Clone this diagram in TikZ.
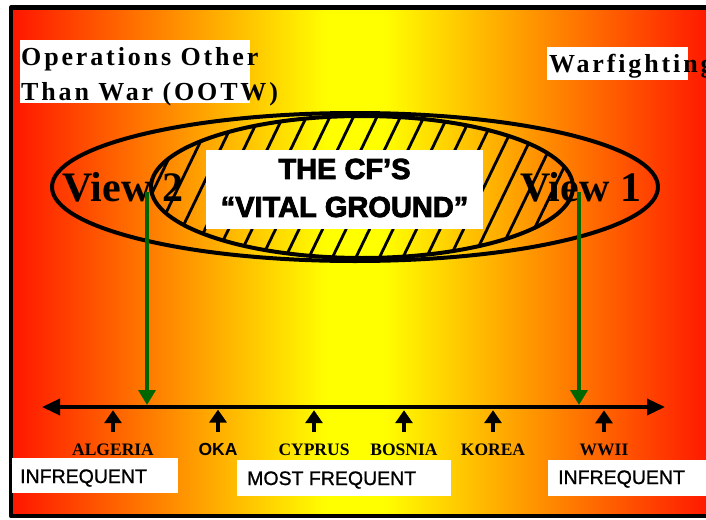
\documentclass[tikz,border=0pt]{standalone}
\usepackage{fontspec}
\setmainfont{Liberation Serif}
\newfontfamily\arialfont{Liberation Sans}
\newfontfamily\heavyarial[FakeBold=1]{Liberation Sans}
\newfontfamily\spacedfont[LetterSpace=11]{Liberation Serif}
\newfontfamily\blackfont[BoldFeatures={FakeBold=3}]{Liberation Sans}
\usetikzlibrary{arrows.meta,positioning,calc,shapes.geometric}
\definecolor{bgred}{RGB}{255,22,0}
\definecolor{bgyellow}{RGB}{255,255,0}
\definecolor{viewgreen}{RGB}{0,102,0}
\pgfdeclarehorizontalshading{warshade}{100bp}{color(0bp)=(bgred); color(25bp)=(bgred);
  color(47.5bp)=(bgyellow); color(51.5bp)=(bgyellow); color(75bp)=(bgred); color(100bp)=(bgred)}
\tikzset{
  ring/.style={draw=black, line width=4pt, ellipse, inner sep=0pt},
  hatchline/.style={draw=black, line width=2.8pt},
  whitebox/.style={fill=white, draw=none, inner sep=0pt},
  sidetitle/.style={font=\spacedfont\bfseries\fontsize{26}{35}\selectfont,
    align=left, inner sep=0pt, anchor=base west},
  viewlabel/.style={font=\bfseries\fontsize{42}{48}\selectfont, inner sep=0pt, anchor=base west},
  corelabel/.style={font=\blackfont\bfseries\fontsize{29}{38}\selectfont,
    align=center, inner sep=0pt},
  eventlabel/.style={font=\bfseries\fontsize{17.5}{20}\selectfont, inner sep=0pt, anchor=base},
  freqlabel/.style={font=\heavyarial\fontsize{19.5}{22}\selectfont, inner sep=0pt, anchor=base west},
  axisarrow/.style={{Triangle[length=18pt,width=16pt]}-{Triangle[length=18pt,width=16pt]}, line width=3.5pt},
  viewarrow/.style={-{Triangle[length=15pt,width=17pt]}, line width=3.5pt, draw=viewgreen},
  eventarrow/.style={-{Triangle[length=13pt,width=17pt]}, line width=3.2pt}
}

\begin{document}
\begin{tikzpicture}[x=1pt,y=-1pt]
    \useasboundingbox (0,0) rectangle (706,519);

    % background
    \shade[shading=warshade] (12,8) rectangle (712,516);
    \draw[line width=4.5pt, line join=round] (712,7.5) -- (11,7.5) -- (11,516) -- (712,516);

    % hatched core
    \coordinate (coremid) at (362,187);
    \begin{scope}
        \clip (coremid) ellipse [x radius=210pt, y radius=70pt];
        \foreach \x in {14,37.5,...,720}
            \draw[hatchline] (\x-45,280) -- (\x+45,94);
    \end{scope}

    \node[ring, minimum width=606pt, minimum height=148pt] (outer) at (355,187) {};
    \node[ring, minimum width=422pt, minimum height=142pt] (core) at (coremid) {};

    \node[whitebox, minimum width=277pt, minimum height=79pt] (coreback) at (344.5,189.5) {};
    \node[corelabel] (coretext) at (344.5,188) {THE CF’S\\“VITAL GROUND”};

    \node[viewlabel] (view2) at (62,201) {View 2};
    \node[viewlabel] (view1) at (520,201) {View 1};

    % titles
    \node[whitebox, minimum width=230pt, minimum height=63pt] (ootwbox) at (135,71.5) {};
    \node[sidetitle] (ootw) at (21,100) {Operations Other\\Than War (OOTW)};
    \node[whitebox, minimum width=141pt, minimum height=33pt] (warbox) at (617.5,63.5) {};
    \node[sidetitle] (war) at (549,72) {Warfighting};

    % frequency axis
    \coordinate (axleft) at (42,407);
    \coordinate (axright) at (665,407);
    \draw[axisarrow] (axleft) -- (axright);

    \coordinate (v2start) at (147,192);
    \coordinate (v2hit) at (147,405);
    \coordinate (v1start) at (579,192);
    \coordinate (v1hit) at (579,405);
    \draw[viewarrow] (v2start) -- (v2hit);
    \draw[viewarrow] (v1start) -- (v1hit);

    \foreach \name/\txt/\px in {algeria/ALGERIA/113, oka/{\arialfont OKA}/218,
        cyprus/CYPRUS/314, bosnia/BOSNIA/404, korea/KOREA/493, wwii/WWII/604}
    {
        \node[eventlabel] (\name) at (\px,455) {\txt};
        \draw[eventarrow] ([yshift=11pt]\name.north) -- ([yshift=33pt]\name.north);
    }

    \node[whitebox, minimum width=166pt, minimum height=35pt] (leftbox) at (95,475.5) {};
    \node[freqlabel] (leftfreq) at (20,483) {INFREQUENT};
    \node[whitebox, minimum width=214pt, minimum height=36pt] (midbox) at (344,478) {};
    \node[freqlabel] (midfreq) at (247,485) {MOST FREQUENT};
    \node[whitebox, minimum width=160pt, minimum height=36pt] (rightbox) at (628,478) {};
    \node[freqlabel] (rightfreq) at (558,484) {INFREQUENT};
\end{tikzpicture}
\end{document}
